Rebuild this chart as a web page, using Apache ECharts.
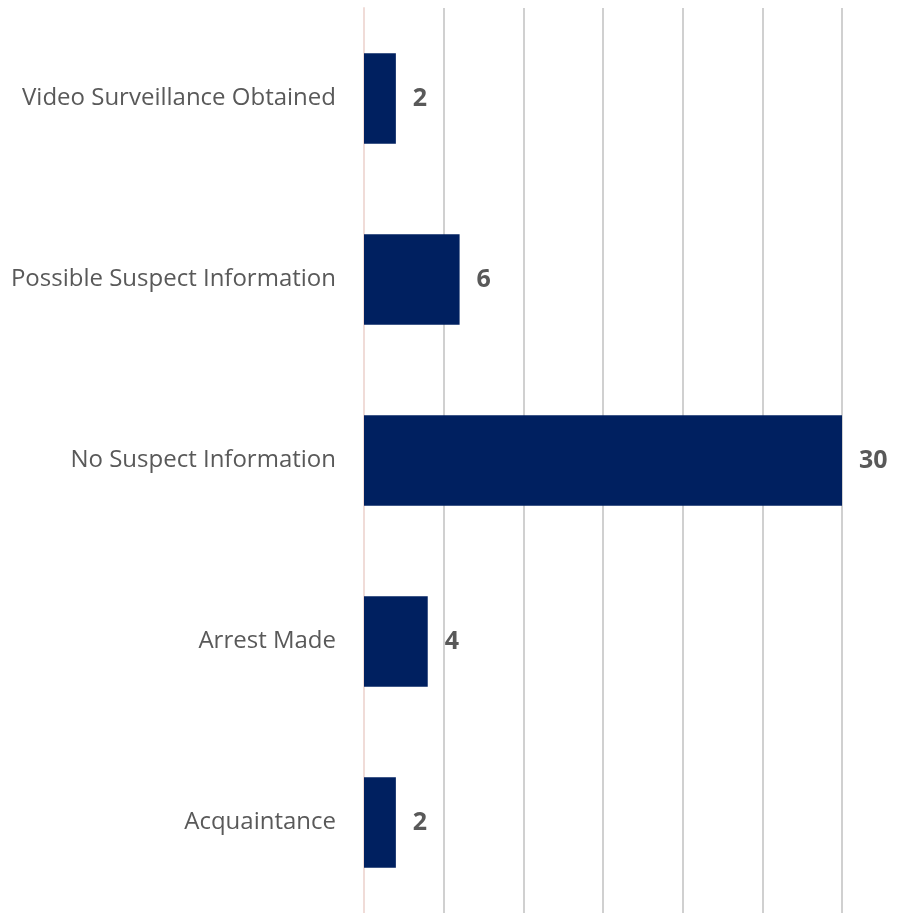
<!DOCTYPE html>
<html>
<head>
<meta charset="utf-8">
<script src="https://cdn.jsdelivr.net/npm/echarts@6/dist/echarts.min.js"></script>
<style>
  html, body { margin: 0; padding: 0; background: #fff; }
  #chart { width: 915px; height: 913px; }
</style>
</head>
<body>
<div id="chart"></div>
<script>
// categories listed bottom to top (category axis starts at the bottom)
const categories = ['Acquaintance', 'Arrest Made', 'No Suspect Information', 'Possible Suspect Information', 'Video Surveillance Obtained'];
const values = [2, 4, 30, 6, 2];

const chart = echarts.init(document.getElementById('chart'));
chart.setOption({
  animation: false,
  grid: { left: 364, right: 73, top: 8, bottom: -6, containLabel: false },
  xAxis: {
    type: 'value',
    min: 0,
    max: 30,
    interval: 5,
    axisLabel: { show: false },
    axisLine: { show: false },
    axisTick: { show: false },
    splitLine: { show: true, lineStyle: { color: '#d0d0d0', width: 2 } }
  },
  yAxis: {
    type: 'category',
    data: categories,
    axisLine: { show: true, lineStyle: { color: '#f0dcd8', width: 2 } },
    axisTick: { show: false },
    axisLabel: {
      margin: 28,
      color: '#595959',
      fontFamily: 'Open Sans',
      fontSize: 24
    }
  },
  series: [{
    type: 'bar',
    data: values,
    barCategoryGap: '50%',
    itemStyle: { color: '#002060' },
    label: {
      show: true,
      position: 'right',
      distance: 17,
      color: '#595959',
      fontFamily: 'Open Sans',
      fontWeight: 'bold',
      fontSize: 25
    }
  }]
});
</script>
</body>
</html>
